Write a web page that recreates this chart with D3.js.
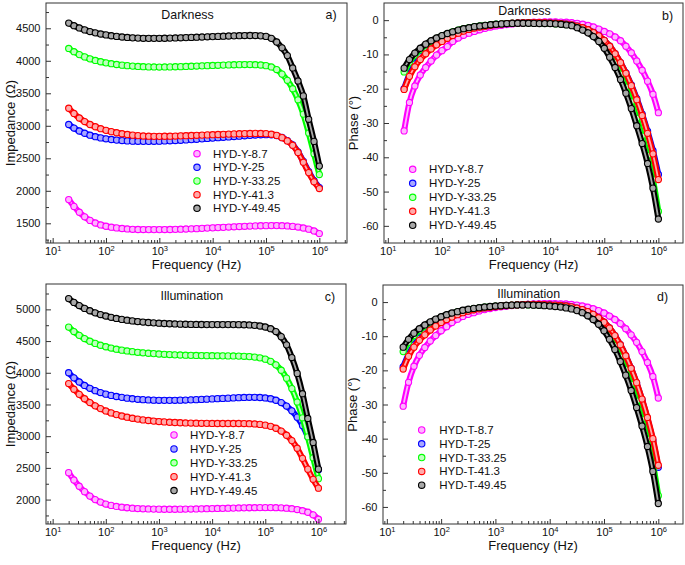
<!DOCTYPE html>
<html><head><meta charset="utf-8">
<script src="https://cdn.jsdelivr.net/npm/d3@7"></script>
<style>
body{margin:0;background:#fff}
svg{display:block}
text{font-family:"Liberation Sans",Arial,sans-serif;fill:#111}
</style>
</head><body><svg id="c" width="685" height="565"></svg>
<script>
// ---------- data ----------
const freqHz = [20, 25.1, 31.6, 39.8, 50.1, 63.1, 79.4, 100,
  126, 158, 200, 251, 316, 398, 501, 631, 794, 1000,
  1259, 1585, 1995, 2512, 3162, 3981, 5012, 6310, 7943, 10000,
  12589, 15849, 19953, 25119, 31623, 39811, 50119, 63096, 79433, 100000,
  125893, 158489, 199526, 251189, 316228, 398107, 501187, 630957, 794328, 1000000];

const namesY = ["HYD-Y-8.7", "HYD-Y-25", "HYD-Y-33.25", "HYD-Y-41.3", "HYD-Y-49.45"];
const namesT = ["HYD-T-8.7", "HYD-T-25", "HYD-T-33.25", "HYD-T-41.3", "HYD-T-49.45"];
const colors = ["#ff00ff", "#0000ff", "#00ff00", "#ff0000", "#000000"];
const lightColors = ["#ffb4ff", "#a8a8ff", "#c0ffc0", "#ffaaaa", "#a8a8a8"];

const freqTicks = [1e1, 1e2, 1e3, 1e4, 1e5, 1e6];
const impTicksDark = [1500, 2000, 2500, 3000, 3500, 4000, 4500];
const impTicksIllum = [2000, 2500, 3000, 3500, 4000, 4500, 5000];
const phaseTicks = [0, -10, -20, -30, -40, -50, -60];

// Impedance, darkness (a)
const impDark87 = [1865,1760,1670,1600,1545,1505,1475,1455,1440,1429,1420,1413,1408,1405,1404,1403,1403,1403,1404,1405,1407,1409,1412,1415,1418,1422,1426,1430,1434,1438,1442,1446,1450,1454,1457,1460,1462,1464,1465,1465,1463,1459,1452,1442,1428,1410,1382,1342];
const impDark25 = [3020,2965,2920,2885,2855,2832,2814,2800,2789,2780,2773,2768,2764,2762,2761,2761,2762,2764,2767,2770,2774,2778,2783,2788,2793,2799,2805,2811,2817,2823,2829,2835,2841,2847,2853,2858,2862,2864,2862,2850,2820,2772,2706,2598,2452,2295,2155,2050];
const impDark3325 = [4190,4140,4095,4060,4030,4005,3985,3968,3955,3943,3933,3925,3918,3913,3909,3906,3905,3904,3905,3906,3908,3910,3913,3916,3919,3922,3925,3928,3931,3934,3937,3939,3941,3942,3942,3940,3935,3925,3905,3865,3795,3700,3570,3400,3180,2890,2570,2250];
const impDark413 = [3270,3190,3120,3065,3020,2985,2955,2930,2910,2893,2878,2866,2856,2849,2843,2840,2838,2838,2839,2840,2842,2845,2848,2851,2854,2857,2860,2863,2866,2869,2872,2875,2878,2880,2882,2883,2882,2879,2870,2852,2818,2768,2700,2590,2440,2280,2140,2035];
const impDark4945 = [4580,4540,4505,4475,4450,4430,4412,4398,4385,4375,4366,4359,4353,4349,4346,4345,4345,4346,4347,4349,4351,4354,4357,4360,4363,4366,4369,4372,4375,4378,4381,4384,4386,4388,4389,4388,4384,4375,4345,4290,4200,4080,3890,3690,3460,3100,2760,2380];

// Phase, darkness (b)
const phaseDark87 = [-32.3,-24,-19.2,-16,-13.8,-11.9,-10.2,-8.9,-7.7,-6.2,-5.2,-4.4,-3.8,-3.3,-2.8,-2.4,-2.0,-1.7,-1.5,-1.3,-1.1,-0.95,-0.8,-0.7,-0.6,-0.55,-0.5,-0.5,-0.5,-0.55,-0.6,-0.75,-0.95,-1.2,-1.55,-2.0,-2.6,-3.3,-4.0,-4.9,-6.0,-7.6,-9.5,-11.9,-14.6,-17.8,-21.6,-27];
const phaseDark25 = [-20,-15.8,-12.8,-10.6,-8.9,-7.5,-6.4,-5.5,-4.7,-4.0,-3.4,-2.9,-2.5,-2.1,-1.85,-1.6,-1.4,-1.25,-1.1,-1.0,-0.9,-0.8,-0.75,-0.7,-0.7,-0.7,-0.75,-0.8,-0.9,-1.0,-1.15,-1.4,-1.75,-2.2,-2.8,-3.6,-4.6,-5.9,-7.6,-9.8,-12.4,-15.4,-18.9,-22.9,-27.4,-32.4,-38.1,-45.0];
const phaseDark3325 = [-15.1,-12.3,-10.2,-8.6,-7.3,-6.2,-5.3,-4.6,-4.0,-3.4,-2.9,-2.5,-2.2,-1.9,-1.7,-1.5,-1.35,-1.2,-1.1,-1.0,-0.9,-0.85,-0.8,-0.8,-0.8,-0.85,-0.9,-0.95,-1.05,-1.15,-1.3,-1.5,-1.9,-2.5,-3.3,-4.3,-5.6,-7.3,-9.6,-12.4,-15.7,-19.5,-23.8,-28.6,-33.8,-39.5,-46.5,-55.8];
const phaseDark413 = [-20.2,-16.4,-13.6,-11.5,-9.8,-8.4,-7.2,-6.2,-5.3,-4.5,-3.8,-3.2,-2.7,-2.3,-2.0,-1.75,-1.5,-1.3,-1.15,-1.0,-0.9,-0.8,-0.75,-0.7,-0.7,-0.7,-0.75,-0.8,-0.9,-1.0,-1.15,-1.4,-1.75,-2.2,-2.8,-3.6,-4.6,-5.9,-7.6,-9.8,-12.4,-15.5,-19.1,-23.2,-27.8,-33.0,-39.0,-46.5];
const phaseDark4945 = [-14,-11.5,-9.6,-8.2,-7.0,-6.0,-5.2,-4.5,-3.9,-3.4,-2.9,-2.5,-2.2,-1.9,-1.7,-1.5,-1.35,-1.2,-1.1,-1.0,-0.95,-0.9,-0.9,-0.9,-0.95,-1.0,-1.0,-1.0,-1.1,-1.2,-1.4,-1.6,-2.2,-2.9,-3.7,-4.8,-6.2,-8.2,-10.8,-13.8,-17.3,-21.3,-25.8,-30.8,-36.0,-41.8,-49.0,-58.0];

// Impedance, illumination (c)
const impIllum87 = [2425,2310,2210,2125,2055,2000,1960,1930,1908,1892,1880,1871,1864,1859,1855,1852,1850,1849,1848,1848,1848,1849,1850,1851,1852,1854,1856,1858,1860,1862,1864,1866,1868,1870,1871,1872,1873,1873,1873,1872,1869,1864,1856,1843,1825,1800,1760,1690];
const impIllum25 = [4000,3920,3855,3800,3755,3718,3688,3663,3643,3626,3612,3600,3590,3582,3576,3571,3568,3566,3565,3565,3566,3568,3570,3573,3576,3580,3584,3588,3592,3596,3600,3604,3608,3611,3613,3613,3610,3603,3590,3567,3530,3475,3400,3300,3170,2990,2760,2470];
const impIllum3325 = [4720,4650,4590,4540,4498,4463,4434,4410,4390,4372,4357,4344,4333,4323,4315,4308,4302,4296,4291,4287,4283,4280,4277,4275,4273,4271,4270,4269,4268,4267,4266,4265,4263,4260,4255,4247,4235,4215,4180,4125,4040,3915,3750,3540,3290,2990,2660,2330];
const impIllum413 = [3830,3740,3660,3590,3530,3478,3435,3398,3367,3340,3318,3299,3283,3269,3257,3247,3238,3231,3225,3220,3216,3212,3209,3207,3205,3203,3202,3201,3200,3200,3200,3200,3200,3199,3197,3193,3186,3174,3155,3125,3080,3015,2930,2810,2650,2480,2320,2180];
const impIllum4945 = [5170,5110,5060,5015,4978,4945,4918,4895,4875,4857,4842,4829,4818,4808,4800,4793,4787,4782,4777,4773,4770,4767,4765,4763,4762,4761,4760,4760,4760,4760,4760,4760,4759,4757,4754,4748,4738,4722,4695,4650,4570,4440,4240,3990,3670,3280,2900,2480];

// Phase, illumination (d)
const phaseIllum87 = [-30.5,-23.5,-18.8,-15.6,-13.3,-11.4,-9.8,-8.4,-7.2,-6.0,-5.0,-4.2,-3.6,-3.1,-2.6,-2.2,-1.9,-1.6,-1.4,-1.2,-1.0,-0.9,-0.75,-0.65,-0.55,-0.5,-0.45,-0.45,-0.45,-0.5,-0.55,-0.7,-0.9,-1.15,-1.5,-1.95,-2.5,-3.2,-4.1,-5.1,-6.3,-7.8,-9.6,-11.8,-14.5,-17.7,-21.8,-28.1];
const phaseIllum25 = [-19.0,-15.3,-12.6,-10.6,-9.0,-7.7,-6.6,-5.6,-4.8,-4.1,-3.5,-3.0,-2.55,-2.2,-1.9,-1.65,-1.45,-1.3,-1.15,-1.0,-0.9,-0.8,-0.75,-0.7,-0.7,-0.7,-0.75,-0.8,-0.9,-1.0,-1.15,-1.4,-1.75,-2.2,-2.8,-3.6,-4.6,-5.9,-7.6,-9.8,-12.5,-15.7,-19.4,-23.7,-28.6,-34.1,-40.5,-48.4];
const phaseIllum3325 = [-14.5,-11.8,-9.8,-8.3,-7.1,-6.1,-5.2,-4.5,-3.9,-3.4,-2.9,-2.5,-2.2,-1.9,-1.7,-1.5,-1.35,-1.2,-1.1,-1.0,-0.9,-0.85,-0.8,-0.8,-0.8,-0.85,-0.9,-0.95,-1.05,-1.2,-1.4,-1.7,-2.1,-2.7,-3.5,-4.5,-5.8,-7.6,-9.9,-12.7,-16.0,-19.8,-24.1,-29.0,-34.3,-40.1,-47.2,-56.7];
const phaseIllum413 = [-19.6,-15.9,-13.2,-11.2,-9.6,-8.2,-7.0,-6.0,-5.1,-4.4,-3.7,-3.1,-2.65,-2.25,-1.95,-1.7,-1.5,-1.3,-1.15,-1.0,-0.9,-0.8,-0.75,-0.7,-0.7,-0.7,-0.75,-0.8,-0.9,-1.0,-1.15,-1.4,-1.75,-2.2,-2.8,-3.6,-4.6,-5.9,-7.6,-9.8,-12.5,-15.7,-19.4,-23.6,-28.4,-33.8,-40.0,-47.8];
const phaseIllum4945 = [-13.2,-10.9,-9.1,-7.8,-6.7,-5.8,-5.0,-4.3,-3.7,-3.2,-2.8,-2.4,-2.1,-1.85,-1.65,-1.45,-1.3,-1.15,-1.05,-0.95,-0.9,-0.85,-0.85,-0.85,-0.9,-0.95,-1.05,-1.15,-1.3,-1.45,-1.7,-2.0,-2.5,-3.1,-4.0,-5.1,-6.5,-8.4,-10.9,-13.9,-17.4,-21.4,-25.9,-30.9,-36.3,-42.3,-49.6,-59.0];

// ---------- layout ----------
const panels = [
  {id:"a", box:[46,3,347,243], xDomain:[7.5,3.3e6], yDomain:[1197,4889], yTicks:impTicksDark, yMinorStep:250,
   ylab:"Impedance (\u03A9)", ylabX:14.5, title:"Darkness", titleX:187.5, titleY:19, tag:"a)", tagX:331, tagY:19,
   series:[impDark87, impDark25, impDark3325, impDark413, impDark4945], names:namesY, leg:{mx:197, tx:213, y0:153.7, dy:13.65}},
  {id:"b", box:[384,3,683,243], xDomain:[8.5,2.85e6], yDomain:[-65,5], yTicks:phaseTicks, yMinorStep:5,
   ylab:"Phase (\u00B0)", ylabX:357.5, title:"Darkness", titleX:524.5, titleY:15, tag:"b)", tagX:667.5, tagY:20,
   series:[phaseDark87, phaseDark25, phaseDark3325, phaseDark413, phaseDark4945], names:namesY, leg:{mx:412.7, tx:429, y0:169.3, dy:14}},
  {id:"c", box:[46,284,346,524], xDomain:[7.5,3.3e6], yDomain:[1615,5400], yTicks:impTicksIllum, yMinorStep:250,
   ylab:"Impedance (\u03A9)", ylabX:14.5, title:"Illumination", titleX:191.8, titleY:300, tag:"c)", tagX:330, tagY:301,
   series:[impIllum87, impIllum25, impIllum3325, impIllum413, impIllum4945], names:namesY, leg:{mx:174, tx:190, y0:435, dy:13.9}},
  {id:"d", box:[383,285,683,524], xDomain:[8.5,2.85e6], yDomain:[-65,5], yTicks:phaseTicks, yMinorStep:5,
   ylab:"Phase (\u00B0)", ylabX:357, title:"Illumination", titleX:528.7, titleY:297.5, tag:"d)", tagX:662.5, tagY:301,
   series:[phaseIllum87, phaseIllum25, phaseIllum3325, phaseIllum413, phaseIllum4945], names:namesT, leg:{mx:421.7, tx:439.3, y0:430, dy:13.8}}
];

const svg = d3.select("#c");
const defs = svg.append("defs");
const axisColor = "#333";

function drawPanel(p) {
  const [L, T, R, B] = p.box;
  const x = d3.scaleLog().domain(p.xDomain).range([L, R]);
  const y = d3.scaleLinear().domain(p.yDomain).range([B, T]);
  const g = svg.append("g");

  defs.append("clipPath").attr("id", "clip" + p.id)
    .append("rect").attr("x", L).attr("y", T).attr("width", R - L).attr("height", B - T);

  // series: tube + ring markers
  const sg = g.append("g").attr("clip-path", `url(#clip${p.id})`);
  const line = d3.line().x((d, i) => x(freqHz[i])).y(d => y(d)).curve(d3.curveMonotoneX);
  p.series.forEach((s, i) => {
    const sGroup = sg.append("g");
    sGroup.append("path").attr("d", line(s)).attr("fill", "none")
      .attr("stroke", colors[i]).attr("stroke-width", 6).attr("stroke-linecap", "round");
    sGroup.append("path").attr("d", line(s)).attr("fill", "none")
      .attr("stroke", lightColors[i]).attr("stroke-width", 1.8);
    sGroup.selectAll("circle").data(s).join("circle")
      .attr("cx", (d, j) => x(freqHz[j])).attr("cy", d => y(d)).attr("r", 3.1)
      .attr("fill", lightColors[i]).attr("stroke", colors[i]).attr("stroke-width", 1.1);
  });

  // x ticks
  const minorX = [];
  for (let e = 0; e <= 6; e++) for (let k = 2; k <= 9; k++) {
    const v = k * Math.pow(10, e);
    if (v > p.xDomain[0] && v < p.xDomain[1]) minorX.push(v);
  }
  const xMaj = g.append("g").attr("transform", `translate(0,${B})`)
    .call(d3.axisBottom(x).tickValues(freqTicks).tickSize(-5).tickFormat(""));
  const xMin = g.append("g").attr("transform", `translate(0,${B})`)
    .call(d3.axisBottom(x).tickValues(minorX).tickSize(-3).tickFormat(""));
  [xMaj, xMin].forEach(a => { a.select(".domain").remove(); a.selectAll("line").attr("stroke", axisColor); });
  xMaj.selectAll(".tick").each(function(d) {
    const t = d3.select(this).append("text").attr("y", 12).attr("text-anchor", "middle")
      .attr("font-size", 11).attr("fill", "#111");
    t.append("tspan").text("10");
    t.append("tspan").attr("dy", -4.5).attr("font-size", 7.5).text(Math.round(Math.log10(d)));
  });

  // y ticks
  const yMinor = [];
  p.yTicks.forEach(v => {
    [v - p.yMinorStep, v + p.yMinorStep].forEach(m => {
      if (m > Math.min(...p.yDomain) + 0.01 && m < Math.max(...p.yDomain) - 0.01 && !p.yTicks.includes(m) && !yMinor.includes(m)) yMinor.push(m);
    });
  });
  const yMaj = g.append("g").attr("transform", `translate(${L},0)`)
    .call(d3.axisLeft(y).tickValues(p.yTicks).tickSize(-5).tickPadding(5.5).tickFormat(d => String(d)));
  const yMin = g.append("g").attr("transform", `translate(${L},0)`)
    .call(d3.axisLeft(y).tickValues(yMinor).tickSize(-3).tickFormat(""));
  [yMaj, yMin].forEach(a => { a.select(".domain").remove(); a.selectAll("line").attr("stroke", axisColor); });
  yMaj.attr("font-size", 11).attr("font-family", null);
  yMaj.selectAll("text").attr("fill", "#111");

  // frame
  g.append("rect").attr("x", L).attr("y", T).attr("width", R - L).attr("height", B - T)
    .attr("fill", "none").attr("stroke", axisColor).attr("stroke-width", 1);

  // axis titles
  g.append("text").attr("x", (L + R) / 2).attr("y", B + 26).attr("text-anchor", "middle")
    .attr("font-size", 13).text("Frequency (Hz)");
  g.append("text").attr("transform", `translate(${p.ylabX},${(T + B) / 2}) rotate(-90)`)
    .attr("text-anchor", "middle").attr("font-size", 13).text(p.ylab);

  // panel title & tag
  g.append("text").attr("x", p.titleX).attr("y", p.titleY).attr("text-anchor", "middle")
    .attr("font-size", 12.4).text(p.title);
  g.append("text").attr("x", p.tagX).attr("y", p.tagY).attr("text-anchor", "middle")
    .attr("font-size", 12.4).text(p.tag);

  // legend
  const lg = g.append("g");
  p.names.forEach((n, i) => {
    const yy = p.leg.y0 + i * p.leg.dy;
    lg.append("circle").attr("cx", p.leg.mx).attr("cy", yy).attr("r", 3.2)
      .attr("fill", lightColors[i]).attr("stroke", colors[i]).attr("stroke-width", 1.1);
    lg.append("text").attr("x", p.leg.tx).attr("y", yy + 4).attr("font-size", 11.5).text(n);
  });
}

panels.forEach(drawPanel);
</script>
</body></html>
